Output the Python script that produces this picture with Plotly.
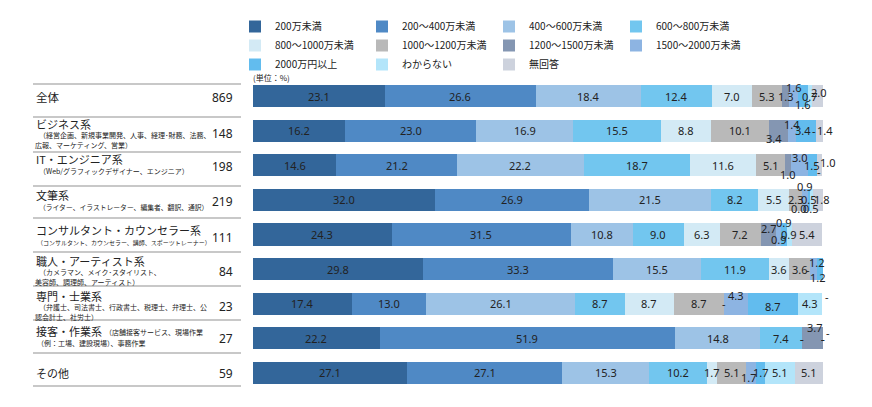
import plotly.graph_objects as go

# ---------------- data ----------------
categories = ['200万未満', '200～400万未満', '400～600万未満', '600～800万未満',
              '800～1000万未満', '1000～1200万未満', '1200～1500万未満',
              '1500～2000万未満', '2000万円以上', 'わからない', '無回答']

groups = ['全体', 'ビジネス系', 'IT・エンジニア系', '文筆系', 'コンサルタント・カウンセラー系',
          '職人・アーティスト系', '専門・士業系', '接客・作業系', 'その他']
n_values = [869, 148, 198, 219, 111, 84, 23, 27, 59]

# None = "-" (no respondents)
v_lt200     = [23.1, 16.2, 14.6, 32.0, 24.3, 29.8, 17.4, 22.2, 27.1]
v_200_400   = [26.6, 23.0, 21.2, 26.9, 31.5, 33.3, 13.0, 51.9, 27.1]
v_400_600   = [18.4, 16.9, 22.2, 21.5, 10.8, 15.5, 26.1, 14.8, 15.3]
v_600_800   = [12.4, 15.5, 18.7, 8.2, 9.0, 11.9, 8.7, 7.4, 10.2]
v_800_1000  = [7.0, 8.8, 11.6, 5.5, 6.3, 3.6, 8.7, None, 1.7]
v_1000_1200 = [5.3, 10.1, 5.1, 2.3, 7.2, 3.6, 8.7, None, 5.1]
v_1200_1500 = [1.3, 3.4, 1.0, 0.0, 2.7, None, None, 3.7, None]
v_1500_2000 = [1.6, 1.4, 3.0, 0.9, 0.9, 1.2, 4.3, None, 1.7]
v_2000_plus = [1.6, 3.4, 1.5, 0.5, 0.9, 1.2, 8.7, None, 1.7]
v_unknown   = [0.7, None, None, 0.5, 0.9, None, 4.3, None, 5.1]
v_noans     = [2.0, 1.4, 1.0, 1.8, 5.4, None, None, None, 5.1]

series = [v_lt200, v_200_400, v_400_600, v_600_800, v_800_1000, v_1000_1200,
          v_1200_1500, v_1500_2000, v_2000_plus, v_unknown, v_noans]

# ---------------- style ----------------
colors = ['#33669A', '#4F89C5', '#9DC3E6', '#72C6EF', '#D3EAF5', '#B9B9B9',
          '#8496B2', '#8DB4E2', '#62BCEE', '#B3E5FA', '#CDD2DD']

# label shifts (xshift, yshift) in px for small labels, keyed by (row, series)
label_shift = {
    (0, 7): (0, 9), (0, 8): (0, -8), (0, 10): (2, 4),
    (1, 6): (-5, -8), (1, 7): (0, 6), (1, 8): (-3, 0), (1, 9): (-2, 0), (1, 10): (5, 0),
    (2, 6): (0, -9), (2, 7): (0, 8), (2, 9): (2, -6), (2, 10): (8, 3),
    (3, 6): (-3, -9), (3, 7): (0, 13), (3, 9): (-1, -9), (3, 10): (4, 0),
    (4, 6): (0, 6), (4, 7): (0, -5), (4, 8): (0, 12),
    (5, 6): (-2, 0), (5, 7): (4, 7), (5, 8): (-2, -8), (5, 9): (-2, -3), (5, 10): (6, 0),
    (6, 7): (0, 8), (6, 8): (0, -3), (6, 10): (5, 7),
    (7, 6): (3, 11), (7, 10): (5, 6),
    (8, 7): (-2, -5),
}
hidden_labels = {(8, 6)}

NUM_FONT = 'Noto Sans'
JP_FONT = 'Noto Sans CJK JP'
TXT = '#222222'

L, R, T, B = 253, 49, 79, 17
W, H = 872, 407
PW, PH = W - L - R, H - T - B


def px_x(x):
    return (x - L) / PW


def px_y(y):
    return (H - B - y) / PH


fig = go.Figure()
for name, vals, col in zip(categories, series, colors):
    fig.add_trace(go.Bar(
        name=name, y=groups, x=vals, orientation='h',
        marker=dict(color=col, line=dict(width=0)),
        width=0.64, hoverinfo='skip'))

annotations = []
# value labels
cum = [0.0] * len(groups)
for si, vals in enumerate(series):
    for ri, v in enumerate(vals):
        vv = 0.0 if v is None else v
        mid = cum[ri] + vv / 2
        cum[ri] += vv
        if (ri, si) in hidden_labels:
            continue
        txt = '-' if v is None else f'{v:.1f}'
        dx, dy = label_shift.get((ri, si), (0, 0))
        annotations.append(dict(
            x=mid, y=groups[ri], xref='x', yref='y', text=txt, showarrow=False,
            xshift=dx, yshift=dy, font=dict(family=NUM_FONT, size=11, color=TXT)))

# left table texts: (text, x_px, y_px, size)
table_texts = [
    ('全体', 34, 97, 11.5),
    ('ビジネス系', 34, 124, 11),
    ('（経営企画、新規事業開発、人事、経理･財務、法務、', 37, 134.5, 7),
    ('広報、マーケティング、営業）', 33, 144.5, 7),
    ('IT・エンジニア系', 34, 159, 11),
    ('（Web/グラフィックデザイナー、エンジニア）', 37, 171, 7),
    ('文筆系', 34, 195, 11),
    ('（ライター、イラストレーター、編集者、翻訳、通訳）', 37, 207, 6.8),
    ('コンサルタント・カウンセラー系', 34, 230, 11),
    ('（コンサルタント、カウンセラー、講師、スポーツトレーナー）', 35, 242, 6),
    ('職人・アーティスト系', 34, 261, 11),
    ('（カメラマン、メイク･スタイリスト、', 37, 272, 7),
    ('美容師、調理師、アーティスト）', 33, 281.5, 7),
    ('専門・士業系', 34, 296, 11),
    ('（弁護士、司法書士、行政書士、税理士、弁理士、公', 37, 307, 7),
    ('認会計士、社労士）', 33, 317, 7),
    ('接客・作業系', 34, 331, 11),
    ('（店舗接客サービス、現場作業', 103, 331.5, 7),
    ('（例：工場、建設現場）、事務作業', 35, 343, 7),
    ('その他', 34, 373, 11),
]
for t, x, y, s in table_texts:
    annotations.append(dict(
        x=px_x(x), y=px_y(y), xref='paper', yref='paper', text=t, showarrow=False,
        xanchor='left', yanchor='middle', font=dict(family=JP_FONT, size=s, color=TXT)))

n_y = [97, 133, 166, 201, 237, 271, 306, 338, 373]
for nv, y in zip(n_values, n_y):
    annotations.append(dict(
        x=px_x(235), y=px_y(y), xref='paper', yref='paper', text=str(nv), showarrow=False,
        xanchor='right', yanchor='middle', font=dict(family=NUM_FONT, size=12, color=TXT)))

annotations.append(dict(
    x=px_x(251), y=px_y(77), xref='paper', yref='paper', text='(単位：%)', showarrow=False,
    xanchor='left', yanchor='middle', font=dict(family=JP_FONT, size=8, color=TXT)))

shapes = []
for y in [84, 117, 152, 186, 218, 252, 286, 320, 353, 386]:
    shapes.append(dict(type='line', xref='paper', yref='paper',
                       x0=px_x(33), x1=px_x(241), y0=px_y(y), y1=px_y(y),
                       line=dict(color='#C8C8C8', width=2)))

fig.update_layout(
    barmode='stack',
    width=W, height=H,
    margin=dict(l=L, r=R, t=T, b=B, autoexpand=False),
    paper_bgcolor='white', plot_bgcolor='white',
    xaxis=dict(range=[0, 100], visible=False, fixedrange=True),
    yaxis=dict(type='category', categoryarray=groups, categoryorder='array',
               range=[8.5, -0.5], visible=False, fixedrange=True),
    legend=dict(orientation='h', xref='container', yref='container',
                x=235 / W, xanchor='left', y=1 - 12 / H, yanchor='top',
                entrywidth=82, entrywidthmode='pixels', traceorder='normal',
                itemwidth=30,
                font=dict(family=JP_FONT, size=10, color=TXT),
                bgcolor='rgba(0,0,0,0)', itemclick=False, itemdoubleclick=False),
    annotations=annotations,
    shapes=shapes,
    showlegend=True,
)

fig.write_html('out.html', config={'displayModeBar': False},
               post_script="document.body.style.margin='0';")
